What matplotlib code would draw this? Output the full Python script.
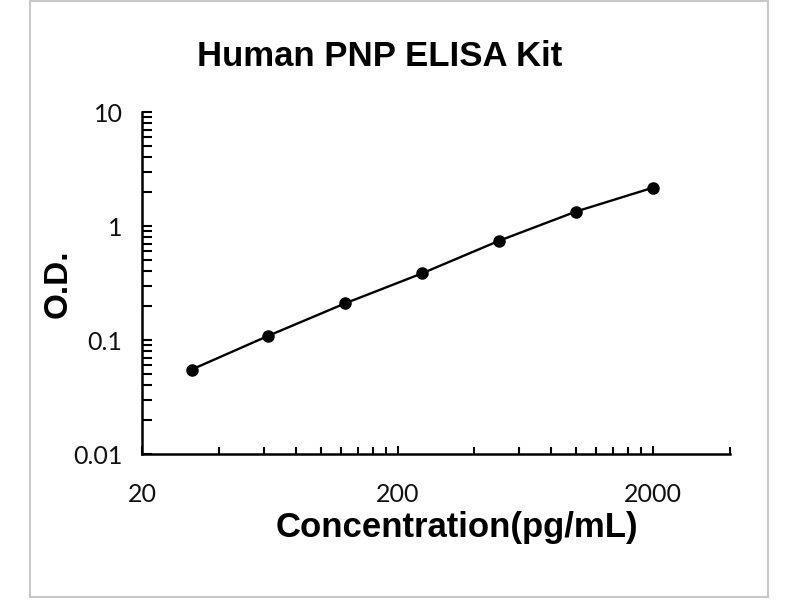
import matplotlib
matplotlib.use("Agg")
import matplotlib.pyplot as plt
from matplotlib.ticker import FixedLocator, NullFormatter, FixedFormatter
from matplotlib.patches import Rectangle

# Data
concentration = [31.25, 62.5, 125, 250, 500, 1000, 2000]
od = [0.055, 0.109, 0.210, 0.385, 0.743, 1.34, 2.17]

x_major = [20, 200, 2000]
x_major_labels = ["20", "200", "2000"]
x_minor = [40, 60, 80, 100, 120, 140, 160, 180,
           400, 600, 800, 1000, 1200, 1400, 1600, 1800, 4000]
y_major = [0.01, 0.1, 1, 10]
y_major_labels = ["0.01", "0.1", "1", "10"]

title = "Human PNP ELISA Kit"
xlabel = "Concentration(pg/mL)"
ylabel = "O.D."

fig = plt.figure(figsize=(8, 6), dpi=100)
fig.patch.set_facecolor("white")

# outer light-gray frame
fig.patches.append(Rectangle((30/800, 3/600), (768-30)/800, (599-3)/600,
                             transform=fig.transFigure, fill=False,
                             edgecolor="#c8c8c8", linewidth=1.5))

ax = fig.add_axes([142/800, 1-454/600, (730-142)/800, (454-112)/600])
ax.set_xscale("log")
ax.set_yscale("log")
ax.set_xlim(20, 4000)
ax.set_ylim(0.01, 10)

ax.plot(concentration, od, color="black", linewidth=1.7, marker="o",
        markersize=8, markerfacecolor="black", markeredgecolor="black",
        zorder=3, clip_on=False)

for s in ["top", "right"]:
    ax.spines[s].set_visible(False)
for s in ["left", "bottom"]:
    ax.spines[s].set_linewidth(1.8)
    ax.spines[s].set_color("black")

ax.xaxis.set_major_locator(FixedLocator(x_major))
ax.xaxis.set_major_formatter(FixedFormatter(x_major_labels))
ax.xaxis.set_minor_locator(FixedLocator(x_minor))
ax.xaxis.set_minor_formatter(NullFormatter())
ax.yaxis.set_major_locator(FixedLocator(y_major))
ax.yaxis.set_major_formatter(FixedFormatter(y_major_labels))
ax.yaxis.set_minor_locator(FixedLocator(
    [m * 10**e for e in (-2, -1, 0) for m in range(2, 10)]))
ax.yaxis.set_minor_formatter(NullFormatter())

ax.tick_params(axis="both", which="both", direction="in", color="black",
               width=1.5)
ax.tick_params(axis="x", which="major", length=6, pad=21)
ax.tick_params(axis="x", which="minor", length=5)
ax.tick_params(axis="y", which="major", length=7, pad=14)
ax.tick_params(axis="y", which="minor", length=7)

for lab in ax.get_xticklabels() + ax.get_yticklabels():
    lab.set_fontfamily(["Lato", "DejaVu Sans"])
    lab.set_fontsize(18)
    lab.set_color("#111111")

fig.text(380/800, 1-57/600, title, ha="center", va="center",
         fontsize=25, fontweight="bold", family=["Liberation Sans", "DejaVu Sans"])
fig.text(457/800, 1-528/600, xlabel, ha="center", va="center",
         fontsize=25, fontweight="bold", family=["Liberation Sans", "DejaVu Sans"])
fig.text(58/800, 1-284/600, ylabel, ha="center", va="center", rotation=90,
         fontsize=24, fontweight="bold", family=["Liberation Sans", "DejaVu Sans"])

fig.savefig("out.png", dpi=100, facecolor="white")
